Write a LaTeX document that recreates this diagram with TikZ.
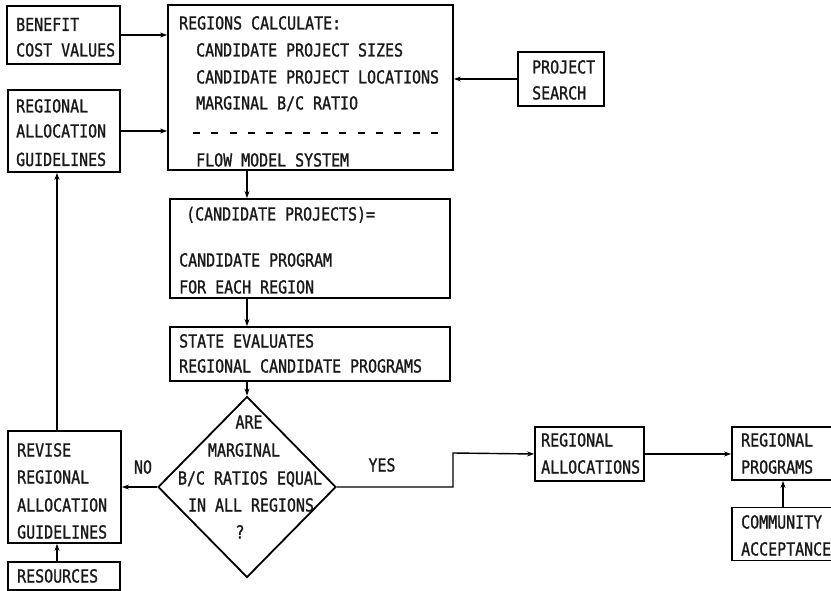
\documentclass[tikz,border=0pt]{standalone}
\usepackage{fontspec}
\newfontfamily\tw[FakeStretch=0.83,FakeBold=1.2]{DejaVu Sans Mono}
\usetikzlibrary{shapes.geometric,arrows.meta}
\tikzset{
  boxx/.style={draw, line width=1.8pt, rectangle, inner sep=0pt},
  txt/.style={anchor=base west, inner sep=0pt, font=\tw\fontsize{18}{21}\selectfont, text=black!90},
  ctxt/.style={anchor=base, inner sep=0pt, font=\tw\fontsize{18}{21}\selectfont, text=black!90},
  arr/.style={line width=1.4pt, -{Stealth[length=7pt,width=5pt]}},
}
\begin{document}
\begin{tikzpicture}[x=1pt,y=-1pt]
\useasboundingbox (0,0) rectangle (831,591);
\clip (0,0) rectangle (831,591);
% boxes
\node[boxx, minimum width=113pt, minimum height=58pt] (bcv) at (63.5,35) {};
\node[boxx, minimum width=112pt, minimum height=82pt] (rag) at (64,131) {};
\node[boxx, minimum width=285pt, minimum height=165pt] (main) at (310.5,87.5) {};
\node[boxx, minimum width=86pt, minimum height=54pt] (ps) at (561,79) {};
\node[boxx, minimum width=280pt, minimum height=99pt] (cp) at (310,248.5) {};
\node[boxx, minimum width=280pt, minimum height=54pt] (se) at (310,354) {};
\node[draw, line width=1.8pt, diamond, inner sep=0pt, minimum width=178pt, minimum height=181pt] (dia) at (247,487) {};
\node[boxx, minimum width=109pt, minimum height=54pt] (ra) at (589.5,454) {};
\node[boxx, minimum width=110pt, minimum height=53pt] (rp) at (787,453.5) {};
\node[boxx, minimum width=110pt, minimum height=53pt] (ca) at (787,534) {};
\node[boxx, minimum width=113pt, minimum height=112pt] (rev) at (64.5,487) {};
\node[boxx, minimum width=112pt, minimum height=28pt] (res) at (64,576) {};
% texts
\node[txt] (t1) at (16,31) {BENEFIT};
\node[txt] (t2) at (16,56.5) {COST VALUES};
\node[txt] (t3) at (16,112.5) {REGIONAL};
\node[txt] (t4) at (16,137.5) {ALLOCATION};
\node[txt] (t5) at (16,166) {GUIDELINES};
\node[txt] (t6) at (179,29.5) {REGIONS CALCULATE:};
\node[txt] (t7) at (196,56.5) {CANDIDATE PROJECT SIZES};
\node[txt] (t8) at (196,83.5) {CANDIDATE PROJECT LOCATIONS};
\node[txt] (t9) at (196,109.5) {MARGINAL B/C RATIO};
\draw[line width=2.2pt, dash pattern=on 7pt off 11.3pt] (193,133) -- (440,133);
\node[txt] (t10) at (196,166.5) {FLOW MODEL SYSTEM};
\node[txt] (t11) at (532,73.5) {PROJECT};
\node[txt] (t12) at (532,99.5) {SEARCH};
\node[txt] (t13) at (186,220.5) {(CANDIDATE PROJECTS)=};
\node[txt] (t14) at (179,266.5) {CANDIDATE PROGRAM};
\node[txt] (t15) at (179,293.5) {FOR EACH REGION};
\node[txt] (t16) at (179,347.5) {STATE EVALUATES};
\node[txt] (t17) at (179,372.5) {REGIONAL CANDIDATE PROGRAMS};
\node[ctxt] (d1) at (249,428.5) {ARE};
\node[ctxt] (d2) at (244,456.5) {MARGINAL};
\node[ctxt] (d3) at (250,484.5) {B/C RATIOS EQUAL};
\node[ctxt] (d4) at (251,511.5) {IN ALL REGIONS};
\node[ctxt] (d5) at (240,538.5) {?};
\node[txt] (t18) at (541,446.5) {REGIONAL};
\node[txt] (t19) at (541,473.5) {ALLOCATIONS};
\node[txt] (t20) at (741,446.5) {REGIONAL};
\node[txt] (t21) at (741,473.5) {PROGRAMS};
\node[txt] (t22) at (741,528.5) {COMMUNITY};
\node[txt] (t23) at (741,555.5) {ACCEPTANCE};
\node[txt] (t24) at (17,456.5) {REVISE};
\node[txt] (t25) at (17,483.5) {REGIONAL};
\node[txt] (t26) at (17,511.5) {ALLOCATION};
\node[txt] (t27) at (17,538.5) {GUIDELINES};
\node[txt] (t28) at (17,582.5) {RESOURCES};
\node[ctxt] (lno) at (143,473.5) {NO};
\node[ctxt] (lyes) at (382,471.5) {YES};
% connectors
\coordinate (spine) at (247,0);
\coordinate (ybend) at (453,453);
\coordinate (lspine) at (57,0);
\coordinate (rspine) at (783,0);
\draw[arr] (bcv.east) -- (bcv.east -| main.west);
\draw[arr] (rag.east) -- (rag.east -| main.west);
\draw[arr] (ps.west) -- (ps.west -| main.east);
\draw[arr] (main.south -| spine) -- (cp.north -| spine);
\draw[arr] (cp.south -| spine) -- (se.north -| spine);
\draw[arr] (se.south -| spine) -- (dia.north);
\draw[arr] (dia.east) -| (ybend) -- (ra.west);
\draw[arr] (ra.east) -- (ra.east -| rp.west);
\draw[arr] (ca.north -| rspine) -- (rp.south -| rspine);
\draw[arr] (dia.west) -- (rev.east);
\draw[arr] (rev.north -| lspine) -- (rag.south -| lspine);
\draw[arr] (res.north -| lspine) -- (rev.south -| lspine);
\end{tikzpicture}
\end{document}
